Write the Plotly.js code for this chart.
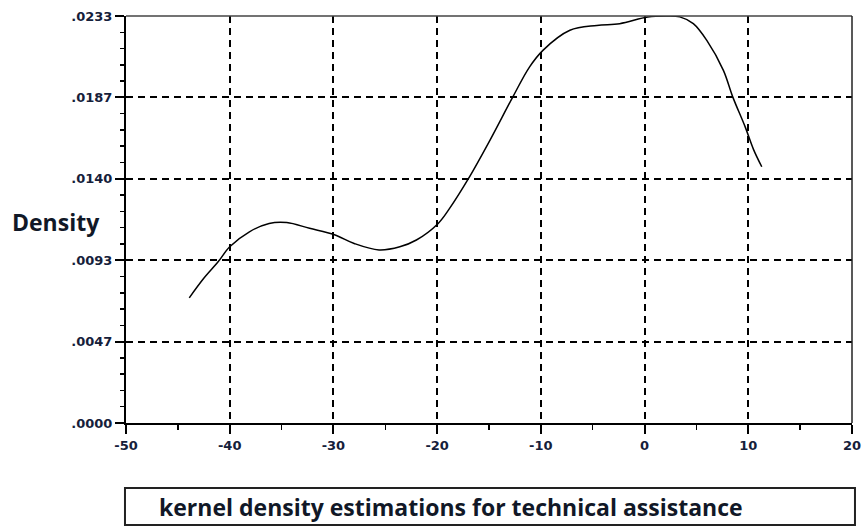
<!DOCTYPE html>
<html>
<head>
<meta charset="utf-8">
<script src="https://cdn.plot.ly/plotly-3.0.1.min.js"></script>
<style>
  html, body { margin: 0; padding: 0; background: #ffffff; }
  #chart { width: 862px; height: 527px; }
</style>
</head>
<body>
<div id="chart"></div>
<script>
// Kernel density estimate for technical assistance
const densityX = [-43.9, -42.5, -41.1, -40.0, -38.1, -36.2, -34.5, -32.3, -29.9, -28.0,
                  -25.6, -23.6, -22.0, -19.9, -18.8, -17.0, -14.9, -12.7, -11.1,
                  -9.8, -7.2, -4.6, -2.4, 0.3, 2.1, 3.4, 4.7, 6.0, 7.6,
                  8.5, 9.7, 10.5, 11.3];
const densityY = [0.00718, 0.00830, 0.00926, 0.01011, 0.01097, 0.01145, 0.01150, 0.01117, 0.01080, 0.01030,
                  0.00993, 0.01011, 0.01050, 0.01145, 0.01231, 0.01400, 0.01623, 0.01871, 0.02042,
                  0.02138, 0.02253, 0.02281, 0.02291, 0.02329, 0.02335, 0.02330, 0.02291, 0.02195, 0.02023,
                  0.01871, 0.01699, 0.01570, 0.01470];

const xTickValues = [-50, -40, -30, -20, -10, 0, 10, 20];
const yMax = 0.02335;
const yTickValues = [0, 0.00467, 0.00934, 0.01401, 0.01868, 0.02335];
const yTickText = ['.0000', '.0047', '.0093', '.0140', '.0187', '.0233'];

const yAxisLabel = 'Density';
const captionText = 'kernel density estimations for technical assistance';

const tickFont = { family: 'DejaVu Sans', size: 13, weight: 'bold', color: '#15203a' };

const trace = {
  x: densityX,
  y: densityY,
  type: 'scatter',
  mode: 'lines',
  line: { color: '#000000', width: 1.5, shape: 'spline', smoothing: 1 },
  hoverinfo: 'skip'
};

const gridStyle = {
  showgrid: true,
  gridcolor: '#000000',
  gridwidth: 2,
  griddash: '7px,5px'
};

const layout = {
  width: 862,
  height: 527,
  margin: { l: 126, r: 10, t: 16, b: 104 },
  paper_bgcolor: '#ffffff',
  plot_bgcolor: '#ffffff',
  showlegend: false,
  xaxis: Object.assign({
    range: [-50, 20],
    tickmode: 'array',
    tickvals: xTickValues,
    ticktext: xTickValues.map(String),
    ticks: 'outside',
    ticklen: 9,
    tickwidth: 2,
    tickcolor: '#000000',
    showline: true,
    linecolor: '#000000',
    linewidth: 2,
    zeroline: false,
    tickfont: tickFont,
    minor: { dtick: 5, tick0: 0, ticks: 'outside', ticklen: 5, tickwidth: 1.5, tickcolor: '#000000', showgrid: false }
  }, gridStyle),
  yaxis: Object.assign({
    range: [0, yMax],
    tickmode: 'array',
    tickvals: yTickValues,
    ticktext: yTickText,
    ticks: 'outside',
    ticklen: 9,
    tickwidth: 2,
    tickcolor: '#000000',
    showline: true,
    linecolor: '#000000',
    linewidth: 2,
    zeroline: false,
    tickfont: tickFont,
    minor: { dtick: yMax / 25, tick0: 0, ticks: 'outside', ticklen: 4, tickwidth: 1.5, tickcolor: '#000000', showgrid: false }
  }, gridStyle),
  shapes: [
    // top and right frame lines
    { type: 'line', xref: 'paper', yref: 'paper', x0: 0, x1: 1, y0: 1, y1: 1,
      line: { color: '#444444', width: 1.5 } },
    { type: 'line', xref: 'paper', yref: 'paper', x0: 1, x1: 1, y0: 0, y1: 1,
      line: { color: '#222222', width: 1.5 } },
    // caption box
    { type: 'rect', xref: 'paper', yref: 'paper', x0: -0.0014, x1: 1.0041, y0: -0.2506, y1: -0.1597,
      line: { color: '#222222', width: 2 }, fillcolor: 'rgba(0,0,0,0)' }
  ],
  annotations: [
    { text: yAxisLabel, xref: 'paper', yref: 'paper', x: -0.1598, y: 0.494,
      xanchor: 'left', yanchor: 'middle', showarrow: false,
      font: { family: 'Open Sans', size: 23, weight: 'bold', color: '#111827' } },
    { text: captionText, xref: 'paper', yref: 'paper', x: 0.0427, y: -0.2052,
      xanchor: 'left', yanchor: 'middle', showarrow: false,
      font: { family: 'Open Sans', size: 23, weight: 'bold', color: '#111827' } }
  ]
};

Plotly.newPlot('chart', [trace], layout, { staticPlot: true, displayModeBar: false });
</script>
</body>
</html>
